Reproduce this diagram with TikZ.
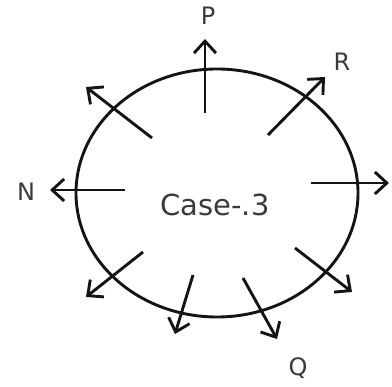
\documentclass[tikz,border=0pt]{standalone}
\usepackage{fontspec}
\setmainfont{DejaVu Sans}
\usetikzlibrary{arrows.meta,shapes.geometric}
\definecolor{ink}{HTML}{141414}
\definecolor{txt}{HTML}{3A3A3A}
\tikzset{
  ray/.style={draw=ink, line width=2.9pt, -{Straight Barb[length=12pt,width=22pt,line width=2.9pt]}},
  lbl/.style={text=txt, font=\fontsize{24}{24}\selectfont, inner sep=0pt},
}
\begin{document}
\begin{tikzpicture}[x=1pt,y=-1pt]
\useasboundingbox (0,0) rectangle (392,387);
\node[ellipse, draw=ink, line width=2.9pt, minimum width=282pt, minimum height=248pt, inner sep=0pt] (oval) at (217,193) {};
\node[text=txt, font=\fontsize{29}{29}\selectfont, inner sep=0pt] (case) at (215,205) {Case-.3};
% arrow start/end points
\coordinate (p0) at (205,113); \coordinate (p1) at (205,39);
\coordinate (r0) at (268,135); \coordinate (r1) at (325,77);
\coordinate (ul0) at (152,138); \coordinate (ul1) at (86,87);
\coordinate (n0) at (125,190); \coordinate (n1) at (50,190);
\coordinate (e0) at (311,183); \coordinate (e1) at (389,183);
\coordinate (ll0) at (143,252); \coordinate (ll1) at (86,297);
\coordinate (b0) at (193,275); \coordinate (b1) at (175,334);
\coordinate (q0) at (243,278); \coordinate (q1) at (277,339);
\coordinate (lr0) at (295,248); \coordinate (lr1) at (352,292);
\draw[ray] (p0) -- (p1);
\draw[ray] (r0) -- (r1);
\draw[ray] (ul0) -- (ul1);
\draw[ray] (n0) -- (n1);
\draw[ray] (e0) -- (e1);
\draw[ray] (ll0) -- (ll1);
\draw[ray] (b0) -- (b1);
\draw[ray] (q0) -- (q1);
\draw[ray] (lr0) -- (lr1);
\node[lbl] (P) at (208,16) {P};
\node[lbl] (R) at (342,62) {R};
\node[lbl] (N) at (26,192) {N};
\node[lbl] (Q) at (298,368) {Q};
\end{tikzpicture}
\end{document}
